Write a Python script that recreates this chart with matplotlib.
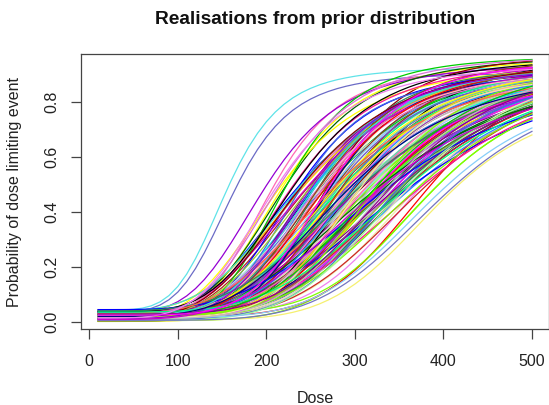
import numpy as np
import matplotlib
matplotlib.use("Agg")
import matplotlib.pyplot as plt

# ---------------- DATA ----------------
doses = np.arange(10, 501, 10)

# sigmoid Emax parameters of each prior realisation
e0 = [0.042, 0.035,
      0.018, 0.026, 0.009, 0.031, 0.014, 0.022, 0.004, 0.037, 0.012, 0.028,
      0.020, 0.006, 0.033, 0.016, 0.024, 0.010, 0.040, 0.019, 0.027, 0.013,
      0.030, 0.008, 0.021, 0.035, 0.015, 0.025, 0.003, 0.029, 0.017, 0.011,
      0.023, 0.038, 0.007, 0.020, 0.032, 0.014, 0.026, 0.002, 0.019, 0.034,
      0.010, 0.024, 0.016, 0.041, 0.012, 0.028, 0.005, 0.022, 0.018, 0.031,
      0.013, 0.036, 0.021, 0.008, 0.027, 0.015, 0.039, 0.011, 0.025, 0.017,
      0.030, 0.006, 0.023, 0.014, 0.033, 0.020, 0.009, 0.028, 0.016, 0.043,
      0.012, 0.026, 0.019, 0.004, 0.032, 0.022, 0.010, 0.037, 0.015, 0.024,
      0.018, 0.007, 0.029, 0.013, 0.035, 0.021, 0.001, 0.027, 0.016, 0.031,
      0.011, 0.023, 0.040, 0.017, 0.008, 0.025, 0.014, 0.034, 0.020, 0.012,
      0.029, 0.005, 0.022, 0.018, 0.038, 0.010, 0.026, 0.015, 0.032, 0.003,
      0.019, 0.024, 0.011, 0.036, 0.016, 0.028, 0.007, 0.021, 0.013, 0.006,
      0.030, 0.017, 0.009, 0.025, 0.044, 0.014, 0.020, 0.033, 0.011, 0.027,
      0.018, 0.004, 0.023, 0.039, 0.015, 0.030, 0.010, 0.022, 0.016, 0.035,
      0.012, 0.026, 0.005, 0.019, 0.028, 0.013, 0.008, 0.024]

emax = [0.925, 0.905,
        0.930, 0.945, 0.900, 0.960, 0.915, 0.935, 0.880, 0.950, 0.925, 0.940,
        0.955, 0.895, 0.920, 0.965, 0.910, 0.945, 0.870, 0.930, 0.950, 0.905,
        0.940, 0.925, 0.960, 0.890, 0.935, 0.915, 0.955, 0.900, 0.945, 0.930,
        0.920, 0.950, 0.885, 0.940, 0.965, 0.910, 0.935, 0.875, 0.955, 0.925,
        0.945, 0.900, 0.930, 0.960, 0.915, 0.950, 0.890, 0.940, 0.970, 0.920,
        0.935, 0.905, 0.955, 0.925, 0.945, 0.880, 0.930, 0.960, 0.910, 0.950,
        0.920, 0.940, 0.895, 0.965, 0.915, 0.935, 0.955, 0.900, 0.945, 0.925,
        0.950, 0.910, 0.930, 0.970, 0.920, 0.885, 0.940, 0.960, 0.905, 0.935,
        0.945, 0.925, 0.890, 0.955, 0.915, 0.940, 0.965, 0.900, 0.930, 0.870,
        0.950, 0.920, 0.945, 0.910, 0.935, 0.960, 0.895, 0.925, 0.955, 0.940,
        0.915, 0.965, 0.930, 0.905, 0.950, 0.925, 0.945, 0.880, 0.935, 0.955,
        0.920, 0.940, 0.900, 0.960, 0.930, 0.910, 0.950, 0.925, 0.945, 0.820,
        0.935, 0.955, 0.915, 0.940, 0.890, 0.965, 0.925, 0.905, 0.950, 0.930,
        0.945, 0.910, 0.935, 0.960, 0.860, 0.920, 0.950, 0.970, 0.900, 0.940,
        0.925, 0.955, 0.880, 0.915, 0.945, 0.935, 0.905, 0.950]

ed50 = [156, 163,
        205, 312, 268, 341, 229, 290, 377, 254, 302, 331,
        218, 285, 347, 262, 309, 236, 295, 359, 273, 321,
        198, 281, 336, 248, 315, 369, 258, 299, 327, 242,
        289, 353, 266, 304, 223, 338, 278, 318, 383, 251,
        293, 344, 261, 307, 231, 326, 287, 362, 270, 313,
        212, 296, 349, 255, 334, 276, 306, 240, 365, 284,
        323, 264, 300, 357, 246, 317, 288, 339, 227, 271,
        310, 352, 259, 298, 330, 282, 374, 244, 319, 292,
        263, 342, 234, 305, 356, 275, 325, 250, 296, 380,
        286, 314, 238, 346, 269, 308, 333, 257, 361, 279,
        301, 221, 328, 267, 350, 291, 245, 316, 372, 283,
        256, 337, 297, 232, 320, 274, 354, 303, 265, 390,
        311, 249, 343, 280, 329, 260, 366, 294, 237, 322,
        277, 348, 253, 309, 385, 272, 335, 215, 300, 358,
        247, 324, 395, 288, 340, 208, 318, 270]

hill = [5.0, 4.9,
        5.2, 4.1, 5.6, 4.4, 3.9, 5.0, 5.8, 4.7, 4.2, 5.3,
        4.8, 3.8, 5.5, 4.6, 5.1, 4.0, 5.9, 4.3, 5.4, 4.9,
        4.4, 5.7, 4.2, 5.0, 3.7, 6.0, 4.8, 4.5, 5.3, 4.1,
        5.6, 4.3, 5.1, 3.9, 4.7, 5.5, 4.0, 5.2, 6.2, 4.6,
        4.9, 5.4, 4.2, 3.8, 5.0, 4.5, 5.7, 4.4, 6.1, 4.8,
        4.1, 5.3, 4.6, 5.8, 4.0, 5.1, 4.7, 3.9, 5.6, 4.3,
        5.0, 4.4, 5.9, 4.2, 5.2, 4.8, 3.7, 5.5, 4.5, 6.0,
        4.6, 5.1, 4.0, 5.4, 4.3, 5.7, 4.9, 3.8, 5.2, 4.1,
        5.0, 4.7, 5.8, 4.4, 3.9, 5.3, 4.2, 5.6, 4.8, 6.1,
        4.3, 5.5, 4.0, 5.1, 4.6, 3.8, 5.9, 4.5, 5.2, 4.9,
        4.1, 5.4, 4.7, 6.0, 4.2, 5.0, 3.9, 5.7, 4.4, 5.3,
        4.8, 4.0, 5.5, 4.6, 3.7, 5.2, 4.3, 5.8, 4.9, 6.3,
        5.1, 4.2, 5.6, 4.5, 3.9, 5.0, 4.7, 5.4, 4.1, 5.9,
        4.4, 5.3, 4.8, 3.8, 5.7, 4.0, 5.2, 4.6, 6.1, 4.3,
        5.0, 4.9, 5.5, 4.2, 5.1, 4.5, 3.9, 5.8]

xticks = [0, 100, 200, 300, 400, 500]
yticks = [0.0, 0.2, 0.4, 0.6, 0.8]
ytick_labels = ["0.0", "0.2", "0.4", "0.6", "0.8"]

title = "Realisations from prior distribution"
xlabel = "Dose"
ylabel = "Probability of dose limiting event"

# ---------------- STYLE ----------------
palette = ["#FF0000", "#00CD00", "#0000FF", "#FF00FF", "#FFFF00", "#000000",
           "#BEBEBE", "#00EEEE", "#A020F0", "#8B4513", "#FF1493", "#98FB98",
           "#006400", "#DA70D6", "#FF69B4", "#000080", "#7CFC00", "#B22222",
           "#40E0D0", "#6A5ACD", "#EEE8AA", "#9ACD32", "#8B008B", "#1E90FF",
           "#FFB6C1", "#2E8B57", "#CD2626", "#00FF7F", "#4169E1", "#EE82EE",
           "#8B0000", "#556B2F", "#87CEFA", "#FFD700", "#9400D3", "#66CDAA",
           "#CD00CD", "#7FFF00", "#D3D3D3", "#FF6347"]
special = {0: "#5FE3E8", 1: "#6B6BC6", 121: "#F5F070", 144: "#7474C0"}

plt.rcParams['font.family'] = ['Liberation Sans', 'DejaVu Sans']

fig = plt.figure(figsize=(5.49, 4.05), dpi=100)
W, H = 549, 405
ax = fig.add_axes([80.7 / W, (H - 329.3) / H, 468.6 / W, (329.3 - 54) / H])

n = len(ed50)
for i in range(n):
    d = doses.astype(float)
    p = e0[i] + (emax[i] - e0[i]) * d ** hill[i] / (d ** hill[i] + ed50[i] ** hill[i])
    col = special.get(i, palette[(i * 7) % len(palette)])
    ax.plot(doses, p, color=col, lw=0.9, solid_joinstyle='round')

ax.set_xlim(-9.7, 519.6)
ax.set_ylim(-0.0276, 0.9735)
ax.set_xticks(xticks)
ax.set_yticks(yticks)
ax.set_yticklabels(ytick_labels, rotation=90, va='center')

for s in ax.spines.values():
    s.set_color('#444444')
    s.set_linewidth(0.9)
ax.tick_params(axis='both', direction='out', length=7.0, width=0.9,
               color='#444444', labelsize=11.5, labelcolor='#222222', pad=8.5)
ax.tick_params(axis='x', pad=10.5)

fig.text(315 / W, 1 - 24 / H, title, ha='center', va='baseline',
         fontsize=13.8, fontweight='bold', color='#111111')
fig.text(315 / W, 1 - 403 / H, xlabel, ha='center', va='baseline',
         fontsize=11.5, color='#222222')
fig.text(15 / W, 1 - 191.7 / H, ylabel, ha='center', va='center',
         rotation=90, fontsize=11.5, color='#222222')

fig.savefig("out.png", dpi=100)
